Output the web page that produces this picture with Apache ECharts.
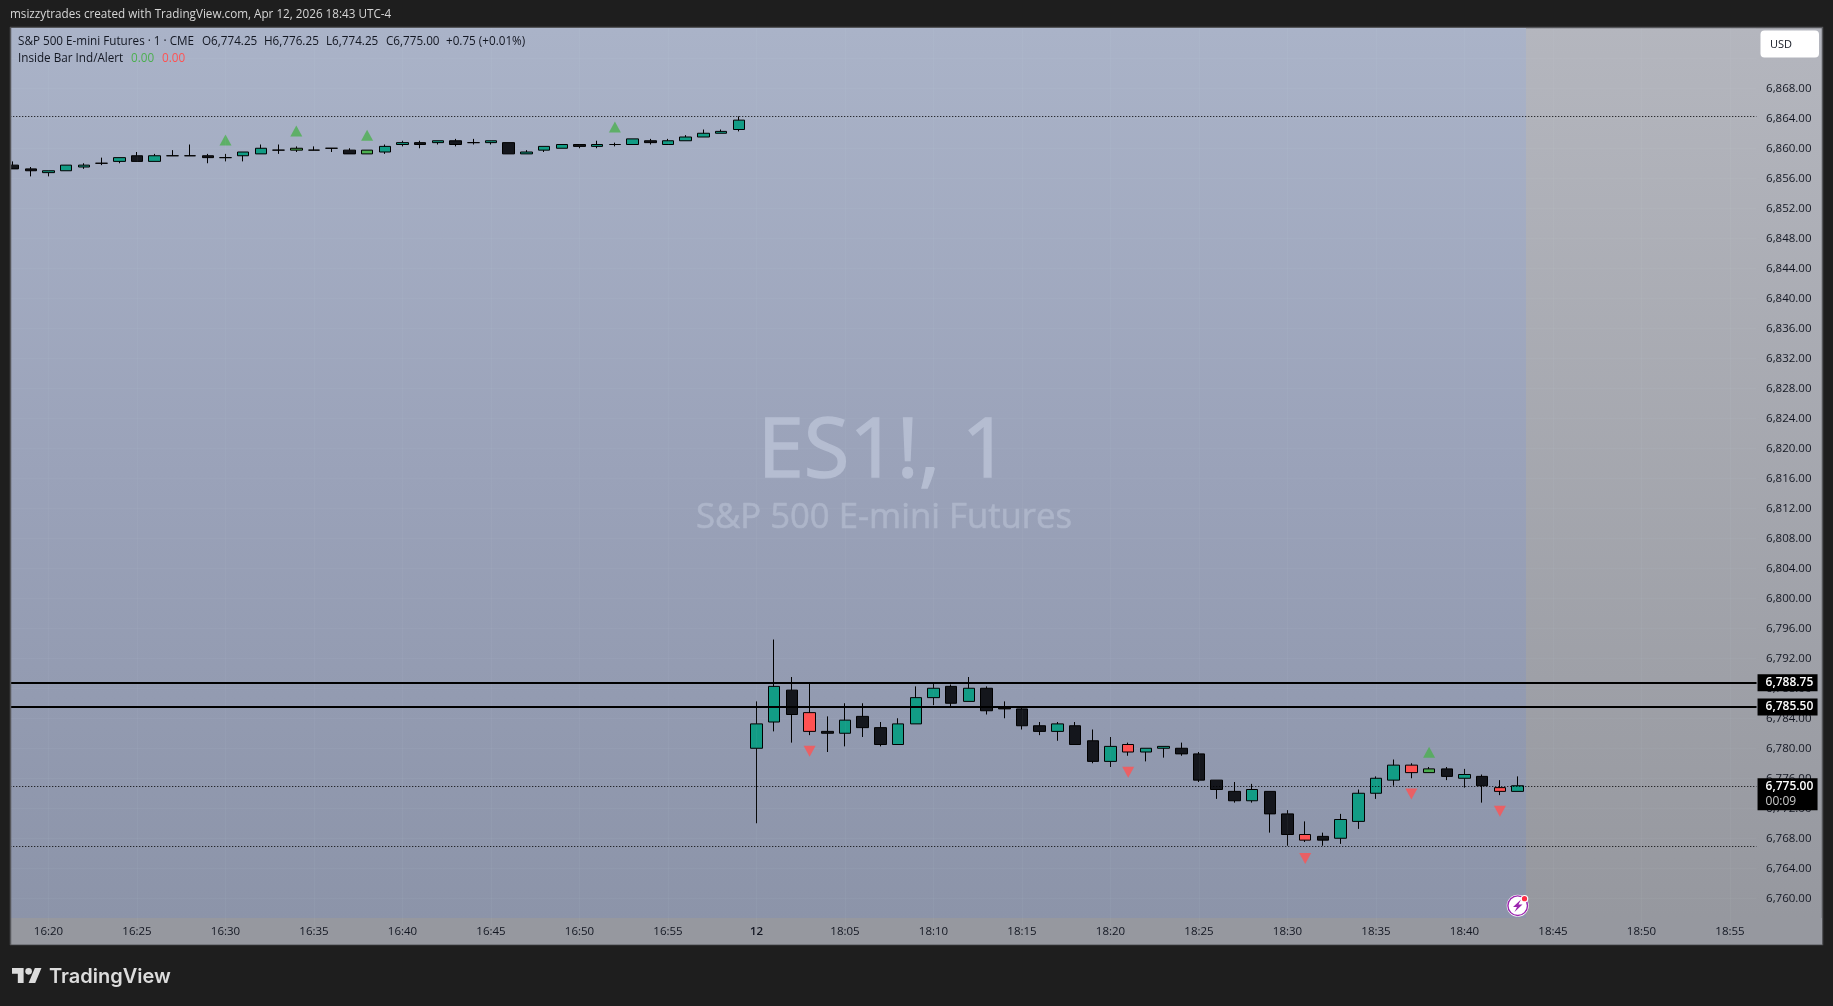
<!DOCTYPE html>
<html><head><meta charset="utf-8">
<style>html,body{margin:0;padding:0;background:#1e1e1e}#c{width:1833px;height:1006px}</style>
<script src="https://cdn.jsdelivr.net/npm/echarts@6/dist/echarts.min.js"></script>
</head><body><div id="c"></div>
<script>
const times = ['16:18','16:19','16:20','16:21','16:22','16:23','16:24','16:25','16:26','16:27','16:28','16:29','16:30','16:31','16:32','16:33','16:34','16:35','16:36','16:37','16:38','16:39','16:40','16:41','16:42','16:43','16:44','16:45','16:46','16:47','16:48','16:49','16:50','16:51','16:52','16:53','16:54','16:55','16:56','16:57','16:58','16:59',
'18:00','18:01','18:02','18:03','18:04','18:05','18:06','18:07','18:08','18:09','18:10','18:11','18:12','18:13','18:14','18:15','18:16','18:17','18:18','18:19','18:20','18:21','18:22','18:23','18:24','18:25','18:26','18:27','18:28','18:29','18:30','18:31','18:32','18:33','18:34','18:35','18:36','18:37','18:38','18:39','18:40','18:41','18:42','18:43','18:44','18:45','18:46','18:47','18:48','18:49','18:50','18:51','18:52','18:53','18:54','18:55','18:56'];
const opens = [6857.75,6857.25,6856.75,6857,6857.5,6858,6858.25,6859,6858.25,6859,6859,6859,6858.75,6859,6859.25,6859.75,6859.75,6859.75,6860,6859.75,6859.25,6859.5,6860.5,6860.75,6860.75,6861,6860.75,6860.75,6860.75,6859.25,6859.75,6860,6860.5,6860.25,6860.5,6860.5,6861,6860.5,6861,6861.5,6862,6862.5,
6780,6783.5,6787.75,6784.75,6782.25,6782,6784.25,6782.75,6780.5,6783.25,6786.75,6788.25,6786.25,6788,6785.5,6785.25,6783,6782.25,6783,6781,6778.25,6780.5,6779.5,6780,6780,6779.25,6775.75,6774.25,6773,6774.25,6771.25,6768.5,6768.25,6768,6770.25,6774,6775.75,6777.75,6776.75,6777.25,6776,6776.25,6774.75,6774.25];
const closes = [6857.25,6857,6857,6857.75,6857.75,6858,6858.75,6858.25,6859,6859,6859,6858.75,6858.75,6859.5,6860,6859.75,6860,6859.75,6860,6859.25,6859.75,6860.25,6860.75,6860.5,6861,6860.5,6860.75,6861,6859.25,6859.5,6860.25,6860.5,6860.25,6860.5,6860.5,6861.25,6860.75,6861,6861.5,6862,6862.25,6863.75,
6783.25,6788.25,6784.5,6782.25,6782,6783.75,6782.75,6780.5,6783.25,6786.75,6788,6786,6788,6785,6785.25,6783,6782.25,6783.25,6780.5,6778.25,6780.25,6779.5,6780,6780.25,6779.25,6775.75,6774.5,6773,6774.5,6771.25,6768.5,6767.75,6767.75,6770.5,6774,6776,6777.75,6776.75,6777.25,6776.25,6776.5,6775,6774.25,6775];
const highs = [6858.25,6857.5,6857,6857.75,6858,6858.75,6858.75,6859.5,6859.25,6859.75,6860.5,6859.25,6859.25,6859.5,6860.5,6860.5,6860.25,6860.25,6860,6860,6859.75,6860.5,6861,6861,6861,6861.25,6861.25,6861,6860.75,6859.75,6860.25,6860.5,6860.5,6861,6860.75,6861.25,6861.25,6861.25,6861.75,6862.5,6862.5,6864.25,
6786.25,6794.5,6789.5,6788.75,6784.25,6786,6786,6783.5,6784,6788.25,6788.75,6788.5,6789.5,6788.25,6786.25,6785.5,6783.5,6783.5,6783.5,6782.5,6781.5,6780.75,6780,6780.25,6780.75,6779.5,6775.75,6775.5,6775.25,6774.25,6771.75,6770.25,6768.75,6771.25,6774.5,6776.25,6778.5,6778,6777.5,6777.5,6777.25,6776.5,6775.75,6776.25];
const lows = [6857.25,6856.25,6856.25,6857,6857.25,6857.75,6858,6858.25,6858.25,6859,6859,6858,6858.25,6858.25,6859.25,6859.25,6859.5,6859.75,6859.5,6859.25,6859.25,6859.25,6860.25,6860,6860.5,6860.25,6860.5,6860.5,6859.25,6859.25,6859.5,6860,6860,6860,6860.25,6860.5,6860.5,6860.5,6861,6861.5,6862,6862.25,
6770,6782.25,6780.75,6781.75,6779.5,6780.25,6781.5,6780.25,6780.5,6783.25,6785.75,6785.5,6786.25,6784.5,6784,6782.5,6781.75,6781,6780.5,6778,6777.5,6779,6778.25,6778.75,6779,6775.5,6773.25,6772.75,6772.75,6768.75,6767,6767.5,6767,6767.25,6769.25,6773.25,6775,6776,6776.75,6775.75,6774.75,6772.75,6773.75,6774.25];
const redBars = ['18:03','18:21','18:31','18:37','18:42'];
const greenBars = ['16:34','16:38','18:38'];
const upMarkers = [['16:30',6861.1],['16:34',6862.3],['16:38',6861.75],['16:52',6862.83],['18:38',6779.46]];
const downMarkers = [['18:03',6779.6],['18:21',6776.8],['18:31',6765.3],['18:37',6773.9],['18:42',6771.6]];
const boldLevels = [6788.75,6785.5];
const dottedLevels = [6864.25,6775,6767];

const FONT = '"Open Sans","Noto Sans",sans-serif';
const fmt = v => v.toLocaleString('en-US',{minimumFractionDigits:2,maximumFractionDigits:2});
const isTick = (i,v) => v==='18:00' || (+v.slice(3))%5===0;
const candles = times.slice(0,opens.length).map((t,i)=>{
  const item={value:[opens[i],closes[i],lows[i],highs[i]]};
  if(redBars.includes(t)) item.itemStyle={color:'#ff5252',color0:'#ff5252'};
  if(greenBars.includes(t)) item.itemStyle={color:'#4caf50',color0:'#4caf50'};
  return item;
});
const tag = (txt)=>({show:true,position:'end',distance:1,formatter:txt,color:'#fff',fontFamily:FONT,fontSize:12,fontWeight:600,backgroundColor:'#000',padding:[2,6,2,8],lineHeight:13,width:46,align:'left'});
const markData = boldLevels.map(v=>({yAxis:v,lineStyle:{type:'solid',width:2,color:'#000'},label:tag(fmt(v))}))
  .concat(dottedLevels.map(v=>({yAxis:v,lineStyle:{type:[1,2],width:1,color:'#000'},
    label: v===6775 ? {show:true,position:'end',distance:1,offset:[0,8.5],formatter:'{a|6,775.00}\n{b|00:09}',backgroundColor:'#000',padding:[1,6,1,8],
      rich:{a:{color:'#fff',fontFamily:FONT,fontSize:12,fontWeight:600,lineHeight:15,width:46},b:{color:'#c8c8c8',fontFamily:FONT,fontSize:12,lineHeight:15,width:46}}} : {show:false}})));
const tx=(x,y,text,o={})=>({type:'text',x,y,z:o.z||7,silent:true,style:Object.assign({text,fill:'#131722',font:'11.7px '+FONT,textVerticalAlign:'middle'},o.style||{})});
const chart = echarts.init(document.getElementById('c'),null,{renderer:'canvas'});
chart.setOption({
  animation:false,
  backgroundColor:'#1e1e1e',
  grid:{left:4.25,right:76.45,top:28.25,bottom:77.75,containLabel:false},
  xAxis:{type:'category',data:times,z:5,boundaryGap:true,axisLine:{show:false},axisTick:{show:false},
    splitLine:{show:true,interval:isTick,alignWithLabel:true,lineStyle:{color:'rgba(240,243,250,0.04)',width:1}},
    axisLabel:{interval:isTick,margin:-3,color:'#131722',fontFamily:FONT,fontSize:11.5,
      formatter:v=>v==='18:00'?'{b|12}':v,rich:{b:{fontWeight:600,fontSize:11.5,fontFamily:FONT,color:'#131722'}}}},
  yAxis:{type:'value',position:'right',min:6756,max:6876,interval:4,scale:true,axisLine:{show:false},axisTick:{show:false},
    splitLine:{show:true,lineStyle:{color:'rgba(240,243,250,0.04)',width:1}},
    axisLabel:{margin:9.5,color:'#131722',fontFamily:FONT,fontSize:11.5,formatter:v=>(v===6756||v===6872||v===6876)?'':fmt(v)}},
  series:[
    {type:'candlestick',data:candles,barWidth:12,z:2,silent:true,
      itemStyle:{color:'#129c85',color0:'#14161c',borderColor:'#000',borderColor0:'#000',borderWidth:1},
      markLine:{silent:true,symbol:'none',z:5,animation:false,data:markData}},
    {type:'scatter',data:upMarkers,symbol:'triangle',symbolSize:[12,11],z:3,silent:true,itemStyle:{color:'#4caf50'}},
    {type:'scatter',data:downMarkers,symbol:'triangle',symbolRotate:180,symbolSize:[12,11],z:3,silent:true,itemStyle:{color:'#ff5252'}}
  ],
  graphic:{elements:[
    {type:'rect',z:-10,silent:true,shape:{x:10.5,y:27.5,width:1812,height:917},style:{fill:{type:'linear',x:0,y:0,x2:0,y2:1,colorStops:[{offset:0,color:'#b4b6be'},{offset:1,color:'#95979e'}]},stroke:'#55565a',lineWidth:1.5}},
    {type:'rect',z:-9,silent:true,shape:{x:11,y:28,width:1515,height:890},style:{fill:{type:'linear',x:0,y:0,x2:0,y2:1,colorStops:[{offset:0,color:'#aab3c8'},{offset:0.5,color:'#9aa2b9'},{offset:1,color:'#8c94a9'}]}}},
    // chrome that hides what is drawn past the pane edges
    {type:'rect',z:6,silent:true,shape:{x:0,y:0,width:10,height:1006},style:{fill:'#1e1e1e'}},
    {type:'rect',z:4,silent:true,shape:{x:11,y:918,width:1811,height:26.5},style:{fill:'#96989f'}},
    {type:'line',z:6,silent:true,shape:{x1:10.5,y1:27,x2:10.5,y2:945},style:{stroke:'#55565a',lineWidth:1.5}},
    // watermark
    tx(883.5,453,'ES1!, 1',{z:1,style:{font:'83px '+FONT,fill:'#b5bdd1',stroke:'#b5bdd1',lineWidth:1.5,textAlign:'center'}}),
    tx(884,518,'S&P 500 E-mini Futures',{z:1,style:{font:'34.7px '+FONT,fill:'#adb5c9',stroke:'#adb5c9',lineWidth:0.6,textAlign:'center'}}),
    // titles
    tx(10,15,'msizzytrades created with TradingView.com, Apr 12, 2026 18:43 UTC-4',{style:{fill:'#d6d6d6'}}),
    tx(18,41.5,'S&P 500 E-mini Futures · 1 · CME'),
    tx(202,41.5,'O6,774.25'),tx(264,41.5,'H6,776.25'),tx(326,41.5,'L6,774.25'),tx(386,41.5,'C6,775.00'),tx(446,41.5,'+0.75 (+0.01%)'),
    tx(18,58.5,'Inside Bar Ind/Alert'),
    tx(131,58.5,'0.00',{style:{fill:'#4caf50'}}),tx(162,58.5,'0.00',{style:{fill:'#ff5252'}}),
    // USD button
    {type:'rect',z:20,silent:true,shape:{x:1760.5,y:30.5,width:58.5,height:27,r:4},style:{fill:'#fff'}},
    tx(1770,44.5,'USD',{z:21,style:{font:'11px '+FONT}}),
    // lightning badge
    {type:'circle',z:7,silent:true,shape:{cx:1517.7,cy:905.7,r:11},style:{fill:'#fff'}},
    {type:'circle',z:8,silent:true,shape:{cx:1517.7,cy:905.7,r:9.8},style:{fill:'#fff',stroke:'#9c27b0',lineWidth:1.4}},
    {type:'polygon',z:9,silent:true,shape:{points:[[1521,899.5],[1513,907],[1517,907],[1514.5,912],[1522.5,904.5],[1518.5,904.5]]},style:{fill:'#9c27b0'}},
    {type:'circle',z:10,silent:true,shape:{cx:1524.5,cy:898.7,r:3.2},style:{fill:'#ff2d45',stroke:'#fff',lineWidth:1.2}},
    // logo
    {type:'group',z:7,silent:true,x:12,y:964.7,scaleX:0.83,scaleY:0.83,children:[
      {type:'polygon',z:7,shape:{points:[[14,22],[7,22],[7,11],[0,11],[0,4],[14,4]]},style:{fill:'#dcdcdc'}},
      {type:'polygon',z:7,shape:{points:[[28,22],[20,22],[27.5,4],[35.5,4]]},style:{fill:'#dcdcdc'}},
      {type:'circle',z:7,shape:{cx:20,cy:8,r:4},style:{fill:'#dcdcdc'}}]},
    tx(49,977,'TradingView',{style:{font:'600 20px Inter,'+FONT,fill:'#dcdcdc'}})
  ]}
});
</script></body></html>
